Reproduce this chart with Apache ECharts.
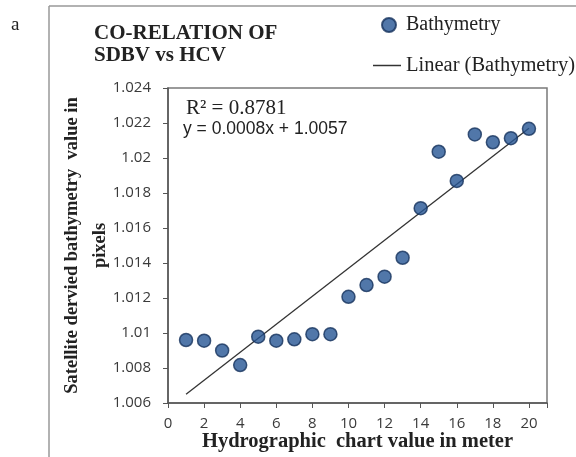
<!DOCTYPE html>
<html>
<head>
<meta charset="utf-8">
<script src="https://cdn.jsdelivr.net/npm/echarts@6/dist/echarts.min.js"></script>
<style>
  html, body { margin: 0; padding: 0; background: #fff; }
  #chart { width: 576px; height: 457px; }
</style>
</head>
<body>
<div id="chart"></div>
<script>
// hydrographic chart value (m) vs satellite derived bathymetry value
var depth = [1, 2, 3, 4, 5, 6, 7, 8, 9, 10, 11, 12, 13, 14, 15, 16, 17, 18, 19, 20];
var sdbv = [1.0096, 1.00956, 1.0090, 1.00817, 1.00979, 1.00956, 1.00964, 1.00993, 1.00993, 1.01207,
            1.01274, 1.01322, 1.0143, 1.01713, 1.02036, 1.01869, 1.02135, 1.0209, 1.02113, 1.02167];
// trend line y = 0.0008x + 1.0057, end points
var trendX = [1, 20];
var trendY = [1.0065, 1.0217];

var serif = '"Liberation Serif", "DejaVu Serif", serif';
var sans = '"Open Sans", "Liberation Sans", sans-serif';

var chart = echarts.init(document.getElementById('chart'));

var option = {
  animation: false,
  grid: {
    left: 168, right: 29, top: 88, bottom: 54,
    outerBoundsMode: 'none',
    show: true, borderColor: '#7a7a7a', borderWidth: 1.5
  },
  legend: [
    {
      left: 376, top: 10,
      itemWidth: 14, itemHeight: 14,
      icon: 'circle',
      textStyle: { fontFamily: serif, fontSize: 20, color: '#222', padding: [0, 0, 0, 5] },
      data: ['Bathymetry']
    },
    {
      left: 368, top: 50,
      itemWidth: 28, itemHeight: 1.5,
      icon: 'rect',
      textStyle: { fontFamily: serif, fontSize: 20.5, color: '#222' },
      data: ['Linear (Bathymetry)']
    }
  ],
  xAxis: {
    type: 'value', min: 0, max: 21, interval: 2,
    name: 'Hydrographic  chart value in meter',
    nameLocation: 'middle', nameGap: 28, nameMoveOverlap: false,
    nameTextStyle: { fontFamily: serif, fontWeight: 'bold', fontSize: 20.5, color: '#222' },
    axisLine: { lineStyle: { color: '#555', width: 1.5 } },
    axisTick: { show: true, length: 5, lineStyle: { color: '#555' } },
    axisLabel: {
      fontFamily: sans, fontSize: 15, color: '#3a3a3a', margin: 13,
      formatter: function (v) { return v % 2 === 0 ? String(v) : ''; }
    },
    splitLine: { show: false }
  },
  yAxis: {
    type: 'value', min: 1.006, max: 1.024, interval: 0.002,
    name: 'Satellite dervied bathymetry  value in\npixels',
    nameLocation: 'middle', nameGap: 54, nameRotate: 90, nameMoveOverlap: false,
    nameTextStyle: { fontFamily: serif, fontWeight: 'bold', fontSize: 18.5, color: '#222', lineHeight: 28 },
    axisLine: { show: true, lineStyle: { color: '#555', width: 1.5 } },
    axisTick: { show: true, length: 5, lineStyle: { color: '#555' } },
    axisLabel: {
      fontFamily: sans, fontSize: 15, color: '#3a3a3a', margin: 17,
      formatter: function (v) { return String(+v.toFixed(3)); }
    },
    splitLine: { show: false }
  },
  series: [
    {
      name: 'Bathymetry',
      type: 'scatter',
      symbolSize: 13,
      itemStyle: { color: '#255594', borderColor: '#15325c', borderWidth: 1.5 },
      data: depth.map(function (d, i) { return [d, sdbv[i]]; }),
      z: 3
    },
    {
      name: 'Linear (Bathymetry)',
      type: 'line',
      symbol: 'none',
      lineStyle: { color: '#333', width: 1.3 },
      itemStyle: { color: '#333' },
      data: trendX.map(function (d, i) { return [d, trendY[i]]; }),
      z: 2
    }
  ],
  graphic: [
    { type: 'line', shape: { x1: 49, y1: 6, x2: 576, y2: 6 }, style: { stroke: '#999', lineWidth: 1.5 } },
    { type: 'line', shape: { x1: 49, y1: 6, x2: 49, y2: 457 }, style: { stroke: '#999', lineWidth: 1.5 } },
    { type: 'text', left: 11, top: 16, style: { text: 'a', font: '19px ' + serif, fill: '#222' } },
    {
      type: 'text', left: 94, top: 23,
      style: { text: 'CO-RELATION OF\nSDBV vs HCV', font: 'bold 21px ' + serif, fill: '#222', align: 'center', lineHeight: 22 }
    },
    { type: 'text', left: 186, top: 98, style: { text: 'R\u00b2 = 0.8781', font: '21px ' + serif, fill: '#222' } },
    { type: 'text', left: 183, top: 120, style: { text: 'y = 0.0008x + 1.0057', font: '17.5px "Liberation Sans", sans-serif', fill: '#222' } }
  ]
};

chart.setOption(option);
</script>
</body>
</html>
